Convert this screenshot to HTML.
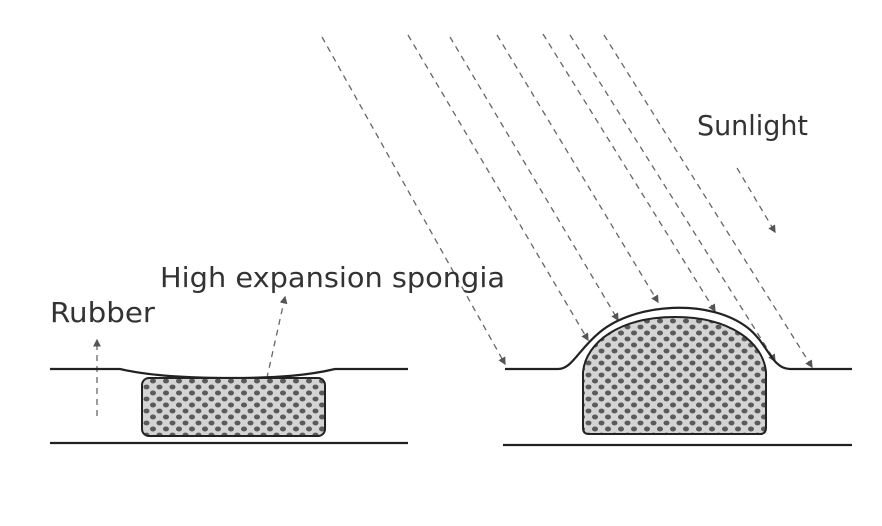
<!DOCTYPE html>
<html><head><style>
html,body{margin:0;padding:0;background:#fff;}
svg{display:block;}
text{font-family:"DejaVu Sans","Liberation Sans",sans-serif;fill:#333;font-size:28px;}
</style></head><body>
<svg width="882" height="526" viewBox="0 0 882 526" xmlns="http://www.w3.org/2000/svg">
<defs>
<pattern id="sp" width="13" height="12" patternUnits="userSpaceOnUse">
<rect width="13" height="12" fill="#d4d4d4"/>
<ellipse cx="3.5" cy="3" rx="3" ry="2.4" fill="#5a5a5a"/>
<ellipse cx="10" cy="9" rx="3" ry="2.5" fill="#5a5a5a"/>
</pattern>
<marker id="ah" markerWidth="6" markerHeight="6" refX="5" refY="3" orient="auto"><path d="M0,0 L6,3 L0,6z" fill="#555"/></marker>
</defs>
<g stroke="#666" stroke-width="1.3" stroke-dasharray="6,5" fill="none" marker-end="url(#ah)">
<line x1="322" y1="37" x2="505" y2="364"/>
<line x1="408" y1="35" x2="588" y2="340"/>
<line x1="450" y1="37" x2="618" y2="320"/>
<line x1="497" y1="35" x2="658" y2="302"/>
<line x1="543" y1="34" x2="715" y2="311"/>
<line x1="570" y1="35" x2="775" y2="361"/>
<line x1="604" y1="35" x2="812" y2="367"/>
<line x1="737" y1="168" x2="775" y2="232"/>
<line x1="97" y1="416" x2="97" y2="340"/>
<line x1="262" y1="400" x2="285" y2="297"/>
</g>
<text x="697" y="135" textLength="111" lengthAdjust="spacingAndGlyphs">Sunlight</text>
<text x="160" y="287" textLength="345" lengthAdjust="spacingAndGlyphs">High expansion spongia</text>
<text x="50" y="322" textLength="105" lengthAdjust="spacingAndGlyphs">Rubber</text>
<g stroke="#222" stroke-width="2.2" fill="none">
<path d="M50,369 L120,369 C145,375 180,378 230,378 C280,378 310,375 335,369 L408,369"/>
<line x1="50" y1="443" x2="408" y2="443"/>
<path d="M505,369 L558,369 C572,369 578,350 600,332 C635,303 710,298 748,328 C768,344 772,369 790,369 L852,369"/>
<line x1="503" y1="445" x2="852" y2="445"/>
</g>
<rect x="142" y="378" width="183" height="58" rx="7" fill="url(#sp)" stroke="#222" stroke-width="2"/>
<path d="M583,372 C586,342 620,317 675,317 C730,317 763,342 766,372 L766,428 Q766,434 760,434 L589,434 Q583,434 583,428 Z" fill="url(#sp)" stroke="#222" stroke-width="2"/>
</svg>
</body></html>
